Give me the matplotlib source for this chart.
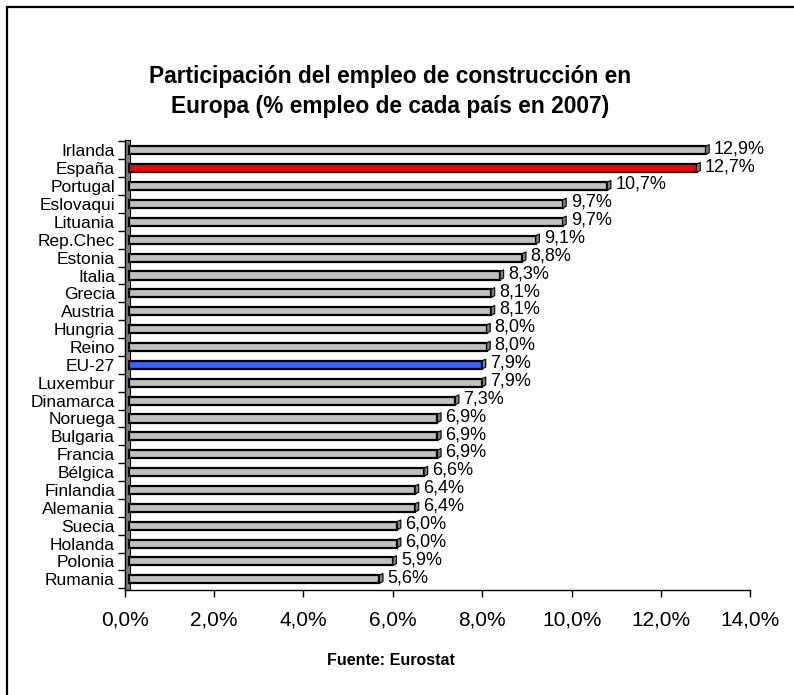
import matplotlib
matplotlib.use("Agg")
import matplotlib.pyplot as plt
from matplotlib.patches import Rectangle, Polygon
import numpy as np

plt.rcParams['font.family'] = ['Liberation Sans', 'DejaVu Sans']

countries = ["Irlanda", "España", "Portugal", "Eslovaqui", "Lituania", "Rep.Chec", "Estonia",
             "Italia", "Grecia", "Austria", "Hungria", "Reino", "EU-27", "Luxembur", "Dinamarca",
             "Noruega", "Bulgaria", "Francia", "Bélgica", "Finlandia", "Alemania", "Suecia",
             "Holanda", "Polonia", "Rumania"]
values = [12.9, 12.7, 10.7, 9.7, 9.7, 9.1, 8.8, 8.3, 8.1, 8.1, 8.0, 8.0, 7.9, 7.9, 7.3,
          6.9, 6.9, 6.9, 6.6, 6.4, 6.4, 6.0, 6.0, 5.9, 5.6]
xticks = [0, 2, 4, 6, 8, 10, 12, 14]
xticklabels = ["0,0%", "2,0%", "4,0%", "6,0%", "8,0%", "10,0%", "12,0%", "14,0%"]

colors = []
for c in countries:
    if c == "España":
        colors.append("#FF0000")
    elif c == "EU-27":
        colors.append("#3366FF")
    else:
        colors.append("#C0C0C0")

fig = plt.figure(figsize=(7.94, 6.95), dpi=100)
ax = fig.add_axes([0.157, 0.151, 0.788, 0.648])

n = len(countries)
y = np.arange(n)[::-1]
h = 0.45
ax.barh(y, values, left=0.1, height=h, color=colors, edgecolor="black", linewidth=1.6, zorder=3)
# 3D end caps
for yi, v in zip(y, values):
    e = v + 0.1
    cap = Polygon([(e, yi - h / 2), (e + 0.08, yi - h / 2 + 0.1), (e + 0.08, yi + h / 2 + 0.1), (e, yi + h / 2)],
                  closed=True, facecolor="#808080", edgecolor="black", linewidth=0.8, zorder=4)
    ax.add_patch(cap)
    ax.text(e + 0.18, yi + 0.1, f"{v:.1f}%".replace(".", ","), va="center", ha="left",
            fontsize=13, zorder=5)

# left 3D wall
ax.add_patch(Rectangle((0, -0.6), 0.12, n + 0.2, facecolor="#808080", edgecolor="black",
                       linewidth=0.8, zorder=2, clip_on=False))

ax.set_xlim(0, 14)
ax.set_ylim(-0.6, n - 0.4)
ax.set_xticks(xticks)
ax.set_xticklabels(xticklabels, fontsize=15)
ax.set_yticks(y)
ax.set_yticklabels(countries, fontsize=12.5)
ax.tick_params(axis='y', length=0, pad=7)
ax.set_yticks(np.arange(-0.5, n, 1), minor=True)
ax.tick_params(axis='y', which='minor', length=5, width=1)
ax.tick_params(axis='x', length=5, width=1, pad=10)
for s in ["top", "right"]:
    ax.spines[s].set_visible(False)
ax.spines["left"].set_linewidth(1)
ax.spines["bottom"].set_linewidth(1)

fig.text(0.491, 0.868, "Participación del empleo de construcción en\nEuropa (% empleo de cada país en 2007)",
         ha="center", va="center", fontsize=16.4, fontweight="bold", linespacing=1.4)
fig.text(0.492, 0.049, "Fuente: Eurostat", ha="center", va="center", fontsize=11.5, fontweight="bold")

fig.add_artist(Rectangle((7 / 794, -0.05), 1.2, 1 - 7 / 695 + 0.05, transform=fig.transFigure,
                         fill=False, edgecolor="black", linewidth=1.6))

fig.savefig("out.png", dpi=100)
